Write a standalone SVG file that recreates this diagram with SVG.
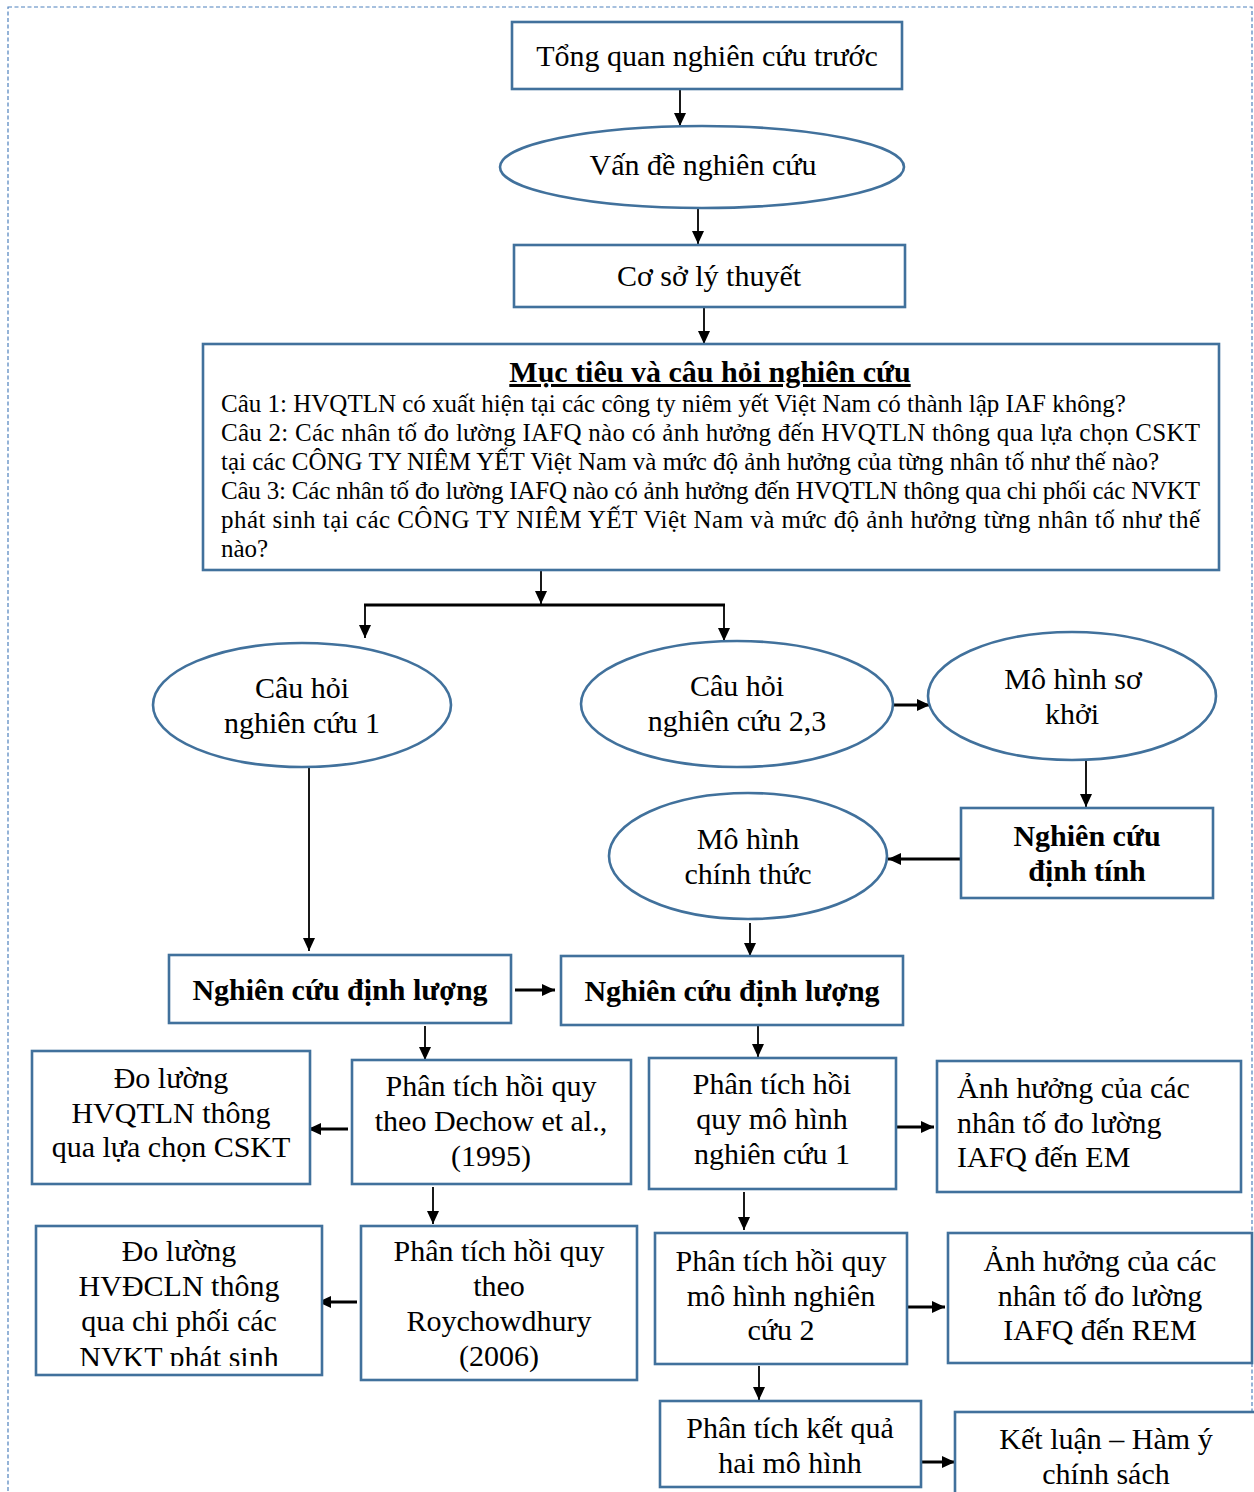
<svg xmlns="http://www.w3.org/2000/svg" width="1254" height="1492" viewBox="0 0 1254 1492">
<style>
.frame{fill:none;stroke:#4f81bd;stroke-width:1.2;stroke-dasharray:4 2.5}
.box,.ell{fill:#fff;stroke:#41719c;stroke-width:2.6}
.t{font-family:"Liberation Serif","Times New Roman",serif;font-size:30px;fill:#000;text-anchor:middle}
.b{font-weight:bold}
.l{text-anchor:start}
.p{font-family:"Liberation Serif","Times New Roman",serif;font-size:25px;fill:#000}
.ttl{font-family:"Liberation Serif","Times New Roman",serif;font-size:30px;font-weight:bold;fill:#000;text-anchor:middle;text-decoration:underline}
.c{fill:none;stroke:#000;stroke-width:1.8;marker-end:url(#ah)}
.k{stroke-width:3}
.n{marker-end:none}
</style>
<defs>
<marker id="ah" markerUnits="userSpaceOnUse" markerWidth="13" markerHeight="12" refX="13" refY="6" orient="auto">
<path d="M0,0L13,6L0,12z" fill="#000"/>
</marker>
<clipPath id="clipDL2"><rect x="36" y="1226" width="286" height="140"/></clipPath>
</defs>
<rect width="1254" height="1492" fill="#fff"/>
<rect class="frame" x="8" y="7" width="1244" height="1500"/>

<g id="connectors">
<path class="c" d="M680,90V126"/>
<path class="c" d="M698,208V244"/>
<path class="c" d="M704,307V344"/>
<path class="c" d="M541,570V604"/>
<path class="c k n" d="M364,605H725"/>
<path class="c" d="M365,605V638"/>
<path class="c" d="M724,605V641"/>
<path class="c k" d="M893,705H930"/>
<path class="c" d="M1086,761V807"/>
<path class="c k" d="M961,859H888"/>
<path class="c" d="M750,923V956"/>
<path class="c" d="M309,767V951"/>
<path class="c k" d="M515,990H555"/>
<path class="c" d="M425,1026V1060"/>
<path class="c k" d="M348,1129H308"/>
<path class="c" d="M433,1187V1224"/>
<path class="c k" d="M357,1302H318"/>
<path class="c" d="M758,1026V1057"/>
<path class="c k" d="M897,1127H934"/>
<path class="c" d="M744,1192V1230"/>
<path class="c k" d="M907,1307H945"/>
<path class="c" d="M759,1366V1400"/>
<path class="c k" d="M921,1462H955"/>
</g>

<g id="n1"><rect class="box" x="512" y="22" width="390" height="67"/><text class="t" x="707" y="66">Tổng quan nghiên cứu trước</text></g>
<g id="n2"><ellipse class="ell" cx="702" cy="167" rx="202" ry="41"/><text class="t" x="703" y="175">Vấn đề nghiên cứu</text></g>
<g id="n3"><rect class="box" x="514" y="245" width="391" height="62"/><text class="t" x="709" y="286">Cơ sở lý thuyết</text></g>
<g id="n4"><rect class="box" x="203" y="344" width="1016" height="226"/>
<text class="ttl" x="710" y="382">Mục tiêu và câu hỏi nghiên cứu</text>
<text class="p" x="221" y="412">Câu 1: HVQTLN có xuất hiện tại các công ty niêm yết Việt Nam có thành lập IAF không?</text>
<text class="p" x="221" y="441" textLength="979" lengthAdjust="spacing">Câu 2: Các nhân tố đo lường IAFQ nào có ảnh hưởng đến HVQTLN thông qua lựa chọn CSKT</text>
<text class="p" x="221" y="470">tại các CÔNG TY NIÊM YẾT Việt Nam và mức độ ảnh hưởng của từng nhân tố như thế nào?</text>
<text class="p" x="221" y="499" textLength="979" lengthAdjust="spacing">Câu 3: Các nhân tố đo lường IAFQ nào có ảnh hưởng đến HVQTLN thông qua chi phối các NVKT</text>
<text class="p" x="221" y="528" textLength="979" lengthAdjust="spacing">phát sinh tại các CÔNG TY NIÊM YẾT Việt Nam và mức độ ảnh hưởng từng nhân tố như thế</text>
<text class="p" x="221" y="557">nào?</text>
</g>
<g id="n5"><ellipse class="ell" cx="302" cy="705" rx="149" ry="62"/><text class="t" x="302" y="698">Câu hỏi</text><text class="t" x="302" y="733">nghiên cứu 1</text></g>
<g id="n6"><ellipse class="ell" cx="737" cy="704" rx="156" ry="63"/><text class="t" x="737" y="696">Câu hỏi</text><text class="t" x="737" y="731">nghiên cứu 2,3</text></g>
<g id="n7"><ellipse class="ell" cx="1072" cy="696" rx="144" ry="64"/><text class="t" x="1073" y="689">Mô hình sơ</text><text class="t" x="1072" y="724">khởi</text></g>
<g id="n8"><rect class="box" x="961" y="808" width="252" height="90"/><text class="t b" x="1087" y="846">Nghiên cứu</text><text class="t b" x="1087" y="881">định tính</text></g>
<g id="n9"><ellipse class="ell" cx="748" cy="856" rx="139" ry="63"/><text class="t" x="748" y="849">Mô hình</text><text class="t" x="748" y="884">chính thức</text></g>
<g id="n10"><rect class="box" x="169" y="955" width="342" height="68"/><text class="t b" x="340" y="1000">Nghiên cứu định lượng</text></g>
<g id="n11"><rect class="box" x="561" y="956" width="342" height="69"/><text class="t b" x="732" y="1001">Nghiên cứu định lượng</text></g>
<g id="n12"><rect class="box" x="32" y="1051" width="278" height="133"/><text class="t" x="171" y="1088">Đo lường</text><text class="t" x="171" y="1123">HVQTLN thông</text><text class="t" x="171" y="1157">qua lựa chọn CSKT</text></g>
<g id="n13"><rect class="box" x="352" y="1060" width="279" height="124"/><text class="t" x="491" y="1096">Phân tích hồi quy</text><text class="t" x="491" y="1131">theo Dechow et al.,</text><text class="t" x="491" y="1166">(1995)</text></g>
<g id="n14"><rect class="box" x="36" y="1226" width="286" height="149"/>
<g clip-path="url(#clipDL2)"><text class="t" x="179" y="1261">Đo lường</text><text class="t" x="179" y="1296">HVĐCLN thông</text><text class="t" x="179" y="1331">qua chi phối các</text><text class="t" x="179" y="1367">NVKT phát sinh</text></g></g>
<g id="n15"><rect class="box" x="361" y="1226" width="276" height="154"/><text class="t" x="499" y="1261">Phân tích hồi quy</text><text class="t" x="499" y="1296">theo</text><text class="t" x="499" y="1331">Roychowdhury</text><text class="t" x="499" y="1366">(2006)</text></g>
<g id="n16"><rect class="box" x="649" y="1058" width="247" height="131"/><text class="t" x="772" y="1094">Phân tích hồi</text><text class="t" x="772" y="1129">quy mô hình</text><text class="t" x="772" y="1164">nghiên cứu 1</text></g>
<g id="n17"><rect class="box" x="937" y="1061" width="304" height="131"/><text class="t l" x="957" y="1098">Ảnh hưởng của các</text><text class="t l" x="957" y="1133">nhân tố đo lường</text><text class="t l" x="957" y="1167">IAFQ đến EM</text></g>
<g id="n18"><rect class="box" x="655" y="1233" width="252" height="131"/><text class="t" x="781" y="1271">Phân tích hồi quy</text><text class="t" x="781" y="1306">mô hình nghiên</text><text class="t" x="781" y="1340">cứu 2</text></g>
<g id="n19"><rect class="box" x="948" y="1233" width="304" height="130"/><text class="t" x="1100" y="1271">Ảnh hưởng của các</text><text class="t" x="1100" y="1306">nhân tố đo lường</text><text class="t" x="1100" y="1340">IAFQ đến REM</text></g>
<g id="n20"><rect class="box" x="660" y="1401" width="261" height="86"/><text class="t" x="790" y="1438">Phân tích kết quả</text><text class="t" x="790" y="1473">hai mô hình</text></g>
<g id="n21"><rect class="box" x="955" y="1412" width="330" height="120"/><text class="t" x="1106" y="1449">Kết luận – Hàm ý</text><text class="t" x="1106" y="1484">chính sách</text></g>
</svg>
